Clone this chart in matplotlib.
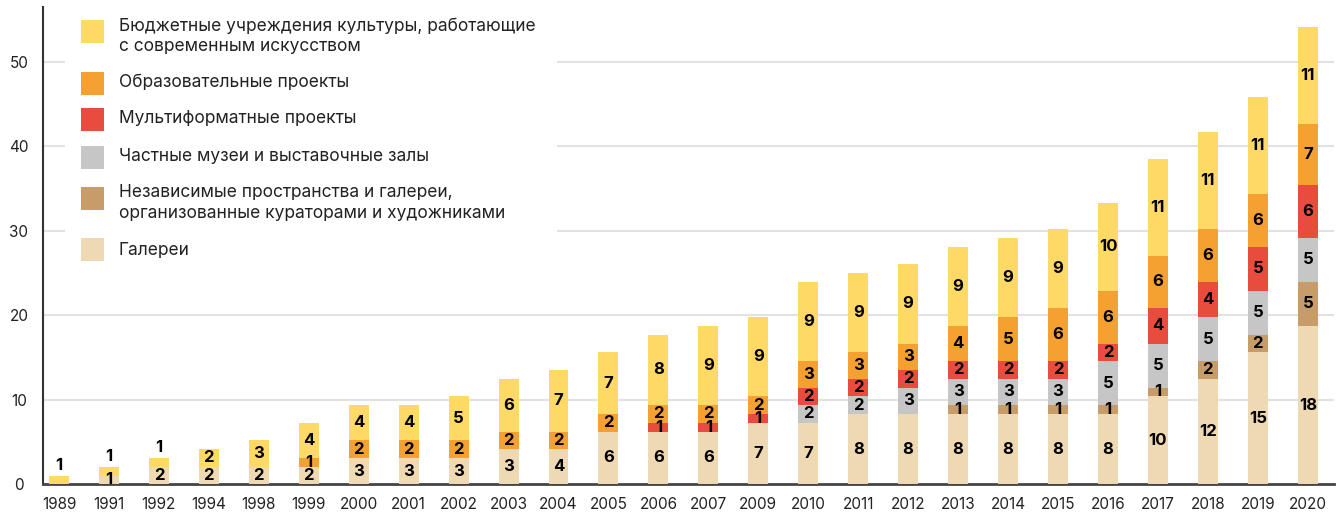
import numpy as np
import matplotlib.pyplot as plt
from matplotlib.patches import Rectangle

# ---------------- data ----------------
years = ['1989', '1991', '1992', '1994', '1998', '1999', '2000', '2001', '2002',
         '2003', '2004', '2005', '2006', '2007', '2009', '2010', '2011', '2012',
         '2013', '2014', '2015', '2016', '2017', '2018', '2019', '2020']

galleries   = [0, 1, 2, 2, 2, 2, 3, 3, 3, 4, 4, 6, 6, 6, 7, 7, 8, 8, 8, 8, 8, 8, 10, 12, 15, 18]
independent = [0, 0, 0, 0, 0, 0, 0, 0, 0, 0, 0, 0, 0, 0, 0, 0, 0, 0, 1, 1, 1, 1, 1, 2, 2, 5]
private     = [0, 0, 0, 0, 0, 0, 0, 0, 0, 0, 0, 0, 0, 0, 0, 2, 2, 3, 3, 3, 3, 5, 5, 5, 5, 5]
multiformat = [0, 0, 0, 0, 0, 0, 0, 0, 0, 0, 0, 0, 1, 1, 1, 2, 2, 2, 2, 2, 2, 2, 4, 4, 5, 6]
education   = [0, 0, 0, 0, 0, 1, 2, 2, 2, 2, 2, 2, 2, 2, 2, 3, 3, 3, 4, 5, 6, 6, 6, 6, 6, 7]
budget      = [1, 1, 1, 2, 3, 4, 4, 4, 5, 6, 7, 7, 8, 9, 9, 9, 9, 9, 9, 9, 9, 10, 11, 11, 11, 11]

# in the source the 2003 gallery bar is drawn 4 high but captioned "3"
label_override = {('2003', 0): 3}

series_names = ['Галереи',
                'Независимые пространства и галереи,\nорганизованные кураторами и художниками',
                'Частные музеи и выставочные залы',
                'Мультиформатные проекты',
                'Образовательные проекты',
                'Бюджетные учреждения культуры, работающие\nс современным искусством']
series_values = [galleries, independent, private, multiformat, education, budget]
colors = ['#EFD9B3', '#C79C68', '#C6C6C6', '#E84C3D', '#F5A131', '#FED966']

y_ticks = [0, 10, 20, 30, 40, 50]

# ---------------- style ----------------
FONT = ['Inter', 'DejaVu Sans']
plt.rcParams['font.family'] = FONT
TXT = '#222222'

W, H = 1340, 513
fig = plt.figure(figsize=(W / 100, H / 100), dpi=100)
ax = fig.add_axes([42.5 / W, 1 - 484.3 / H, (1334 - 42.5) / W, (484.3 - 7) / H])

x = np.arange(len(years))
bottom = np.zeros(len(years))
for name, vals, col in zip(series_names, series_values, colors):
    vals = np.array(vals, dtype=float)
    ax.bar(x, vals, 0.4, bottom=bottom, color=col, zorder=3, linewidth=0)
    bottom += vals

# segment labels
totals = bottom.copy()
bottom = np.zeros(len(years))
for k, vals in enumerate(series_values):
    vals = np.array(vals, dtype=float)
    for i, v in enumerate(vals):
        if v <= 0:
            continue
        txt = str(label_override.get((years[i], k), int(v)))
        top = bottom[i] + v
        if top >= totals[i] and v <= 1:
            ax.annotate(txt, (x[i], top), xytext=(0, 2), textcoords='offset points',
                        ha='center', va='bottom', fontsize=12, fontweight='bold', color='black', zorder=5)
        else:
            ax.text(x[i], bottom[i] + v / 2, txt, ha='center', va='center',
                    fontsize=12, fontweight='bold', color='black', zorder=5)
    bottom += vals

# the source draws its grid on a slightly compressed scale relative to the bars
grid_scale = 0.96
for t in y_ticks[1:]:
    ax.axhline(t * grid_scale, color='#E2E2E2', lw=1.5, zorder=1)
ax.set_yticks([t * grid_scale for t in y_ticks])
ax.set_yticklabels([str(t) for t in y_ticks])

ax.set_xticks(x)
ax.set_xticklabels(years)
ax.set_xlim(-0.33, 25.525)
ax.set_ylim(0, 54.24)

for s in ['top', 'right']:
    ax.spines[s].set_visible(False)
ax.spines['left'].set_color('#333333')
ax.spines['left'].set_linewidth(1.5)
ax.spines['bottom'].set_color('#444444')
ax.spines['bottom'].set_linewidth(2)
ax.tick_params(axis='both', length=0, labelsize=11, colors=TXT)
ax.tick_params(axis='x', pad=9)
for lbl in ax.get_yticklabels():
    lbl.set_horizontalalignment('center')
ax.yaxis.set_tick_params(pad=17)

# ---------------- legend (drawn by hand) ----------------
def fx(px):
    return px / W

def fy(py):
    return 1 - py / H

fig.add_artist(Rectangle((fx(65), fy(275)), fx(557) - fx(65), fy(8) - fy(275),
                         transform=fig.transFigure, facecolor='white', edgecolor='none', zorder=2))

# legend rows top to bottom: patch top y, text centre y
leg_rows = [(20, 36.5), (72, 82.7), (108, 119), (146, 156), (186.7, 203), (238.3, 250)]
for (ptop, tcy), name, col in zip(leg_rows, series_names[::-1], colors[::-1]):
    fig.add_artist(Rectangle((fx(81), fy(ptop + 23)), fx(23), 23 / H,
                             transform=fig.transFigure, facecolor=col, edgecolor='none', zorder=3))
    fig.text(fx(119), fy(tcy), name, ha='left', va='center', fontsize=12.5, color=TXT,
             linespacing=1.3, zorder=4)

fig.savefig('out.png', dpi=100)
